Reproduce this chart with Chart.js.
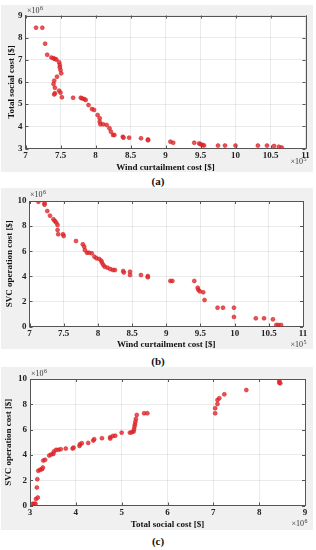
<!DOCTYPE html>
<html>
<head>
<meta charset="utf-8">
<script src="https://cdn.jsdelivr.net/npm/chart.js@4.4.1/dist/chart.umd.min.js"></script>
<style>
  body { margin: 0; width: 316px; height: 550px; background: #fff; position: relative; overflow: hidden; }
  .panel { position: absolute; left: 1px; width: 312px; background: #f0f0f0; }
  .panel canvas { display: block; }
  .cap { position: absolute; left: 0; width: 316px; text-align: center; font: bold 11px "Liberation Serif", serif; color: #111; line-height: 14px; }
</style>
</head>
<body>
<div class="panel" style="top:5px;height:167px"><canvas id="chartA" width="312" height="167"></canvas></div>
<div class="cap" style="top:174px">(a)</div>
<div class="panel" style="top:188px;height:161px"><canvas id="chartB" width="312" height="161"></canvas></div>
<div class="cap" style="top:354px">(b)</div>
<div class="panel" style="top:367px;height:163px"><canvas id="chartC" width="312" height="163"></canvas></div>
<div class="cap" style="top:534px">(c)</div>

<script>
// Pareto front points
// wind curtailment cost (x10^5 $), total social cost / SVC operation cost (x10^6 $)
const windCostA = [7.15, 7.24, 7.28, 7.31, 7.37, 7.40, 7.42, 7.44, 7.48, 7.49, 7.49, 7.50, 7.51, 7.45, 7.41, 7.40, 7.42, 7.48, 7.50, 7.42, 7.41, 7.52, 7.68, 7.79, 7.81, 7.84, 7.86, 7.90, 7.95, 7.98, 8.03, 8.06, 8.06, 8.07, 8.11, 8.16, 8.20, 8.22, 8.25, 8.27, 8.39, 8.40, 8.48, 8.65, 8.75, 8.75, 9.07, 9.11, 9.41, 9.48, 9.50, 9.53, 9.55, 9.75, 9.85, 10.00, 10.32, 10.45, 10.55, 10.62, 10.66];
const socialCostA = [8.45, 8.45, 7.73, 7.23, 7.10, 7.07, 7.04, 7.02, 6.89, 6.77, 6.66, 6.54, 6.39, 6.24, 6.06, 5.91, 5.74, 5.61, 5.52, 5.49, 5.44, 5.31, 5.29, 5.29, 5.26, 5.23, 5.19, 4.96, 4.78, 4.74, 4.51, 4.36, 4.21, 4.09, 4.09, 4.06, 3.91, 3.76, 3.61, 3.61, 3.53, 3.49, 3.49, 3.46, 3.41, 3.37, 3.31, 3.26, 3.26, 3.23, 3.19, 3.16, 3.14, 3.13, 3.13, 3.13, 3.13, 3.13, 3.11, 3.08, 3.04];

const windCostB = [7.13, 7.22, 7.22, 7.26, 7.30, 7.35, 7.37, 7.39, 7.41, 7.41, 7.42, 7.49, 7.50, 7.68, 7.78, 7.80, 7.81, 7.84, 7.87, 7.91, 7.95, 7.98, 8.02, 8.05, 8.06, 8.08, 8.10, 8.14, 8.18, 8.22, 8.25, 8.37, 8.38, 8.47, 8.47, 8.63, 8.73, 8.73, 9.06, 9.09, 9.41, 9.46, 9.47, 9.49, 9.54, 9.56, 9.75, 9.83, 9.99, 9.99, 10.31, 10.43, 10.56, 10.61, 10.64, 10.68];
const svcCostB = [9.94, 9.82, 9.71, 9.20, 8.83, 8.54, 8.41, 8.29, 8.09, 7.69, 7.35, 7.35, 7.21, 6.81, 6.55, 6.36, 6.10, 5.88, 5.88, 5.83, 5.56, 5.43, 5.38, 5.24, 5.08, 4.90, 4.76, 4.69, 4.58, 4.50, 4.50, 4.42, 4.30, 4.37, 4.10, 4.10, 4.02, 3.92, 3.63, 3.63, 3.63, 3.09, 2.93, 2.80, 2.73, 2.11, 1.50, 1.50, 1.50, 0.76, 0.65, 0.65, 0.57, 0.12, 0.12, 0.12];

const socialCostC = [3.06, 3.09, 3.12, 3.13, 3.17, 3.15, 3.16, 3.18, 3.22, 3.26, 3.28, 3.29, 3.33, 3.42, 3.46, 3.51, 3.52, 3.57, 3.62, 3.67, 3.78, 3.93, 3.95, 4.08, 4.09, 4.13, 4.27, 4.38, 4.40, 4.57, 4.75, 4.75, 4.81, 4.86, 5.00, 5.18, 5.22, 5.26, 5.27, 5.28, 5.29, 5.30, 5.31, 5.33, 5.49, 5.56, 7.04, 7.04, 7.09, 7.09, 7.13, 7.24, 7.72, 8.44, 8.44, 8.46];
const svcCostC = [0.13, 0.13, 0.13, 0.51, 0.63, 1.42, 2.08, 2.74, 2.82, 2.87, 3.00, 3.55, 3.61, 3.95, 4.03, 4.08, 4.26, 4.40, 4.40, 4.45, 4.50, 4.50, 4.58, 4.71, 4.85, 4.92, 4.95, 5.13, 5.24, 5.32, 5.40, 5.29, 5.50, 5.52, 5.76, 5.76, 5.79, 5.84, 6.03, 6.24, 6.42, 6.63, 6.84, 7.16, 7.29, 7.29, 7.29, 7.69, 8.03, 8.34, 8.48, 8.79, 9.13, 9.87, 9.71, 9.66];

// tick labels
const windTicks = [7, 7.5, 8, 8.5, 9, 9.5, 10, 10.5, 11];
const socialTicksY = [3, 4, 5, 6, 7, 8, 9];
const socialTicksX = [3, 4, 5, 6, 7, 8, 9];
const svcTicks = [0, 2, 4, 6, 8, 10];

const serif = "'Liberation Serif', 'Times New Roman', serif";

// white plot area, matlab-style box, inward ticks and exponent labels
const matlabBox = {
  id: 'matlabBox',
  beforeDraw(chart) {
    const { ctx, chartArea: a } = chart;
    ctx.save();
    ctx.fillStyle = '#fff';
    ctx.fillRect(a.left, a.top, a.right - a.left, a.bottom - a.top);
    ctx.restore();
  },
  afterDraw(chart, args, opts) {
    const { ctx, chartArea: a } = chart;
    const xs = chart.scales.x, ys = chart.scales.y;
    ctx.save();
    ctx.strokeStyle = '#555';
    ctx.lineWidth = 1;
    ctx.beginPath();
    ctx.moveTo(a.left, Math.round(a.top) + 0.5);
    ctx.lineTo(a.right, Math.round(a.top) + 0.5);
    ctx.moveTo(Math.round(a.right) + 0.5, a.top);
    ctx.lineTo(Math.round(a.right) + 0.5, a.bottom);
    // inward tick marks
    xs.ticks.forEach(t => {
      const px = Math.round(xs.getPixelForValue(t.value)) + 0.5;
      ctx.moveTo(px, a.bottom); ctx.lineTo(px, a.bottom - 3);
      ctx.moveTo(px, a.top); ctx.lineTo(px, a.top + 3);
    });
    ys.ticks.forEach(t => {
      const py = Math.round(ys.getPixelForValue(t.value)) + 0.5;
      ctx.moveTo(a.left, py); ctx.lineTo(a.left + 3, py);
      ctx.moveTo(a.right, py); ctx.lineTo(a.right - 3, py);
    });
    ctx.stroke();

    // exponent labels
    ctx.fillStyle = '#333';
    ctx.textBaseline = 'middle';
    const drawExp = (x, y, exp, alignRight) => {
      ctx.font = '8px ' + serif;
      const w1 = ctx.measureText('\u00d710').width;
      ctx.font = '6px ' + serif;
      const w2 = ctx.measureText(exp).width;
      const x0 = alignRight ? x - w1 - w2 : x;
      ctx.font = '8px ' + serif;
      ctx.textAlign = 'left';
      ctx.fillText('\u00d710', x0, y);
      ctx.font = '6px ' + serif;
      ctx.fillText(exp, x0 + w1 + 0.5, y - 3);
    };
    drawExp(opts.yExpX, opts.yExpY, opts.yExp, false);
    drawExp(opts.xExpX, opts.xExpY, opts.xExp, true);
    ctx.restore();
  }
};

function makeChart(id, xs, ys, cfg) {
  const points = xs.map((x, i) => ({ x: x, y: ys[i] }));
  const tickFont = { family: serif, size: 9, weight: 'bold' };
  const titleFont = { family: serif, size: 9, weight: 'bold', lineHeight: 1 };
  return new Chart(document.getElementById(id), {
    type: 'scatter',
    data: {
      datasets: [{
        data: points,
        pointStyle: 'circle',
        pointRadius: 2,
        borderWidth: 0.6,
        backgroundColor: 'rgba(228, 40, 45, 0.8)',
        borderColor: 'rgba(210, 25, 30, 0.85)'
      }]
    },
    options: {
      responsive: false,
      animation: false,
      devicePixelRatio: 1,
      layout: { padding: { left: 0, top: cfg.top, right: cfg.right, bottom: 0 } },
      scales: {
        x: {
          type: 'linear',
          min: cfg.xTicks[0],
          max: cfg.xTicks[cfg.xTicks.length - 1],
          afterBuildTicks: s => { s.ticks = cfg.xTicks.map(v => ({ value: v })); },
          afterFit: s => { s.height = cfg.xHeight; },
          ticks: { font: tickFont, color: '#222', padding: 2, maxRotation: 0, autoSkip: false, callback: v => String(v) },
          grid: { color: 'rgba(0, 0, 0, 0.08)', drawTicks: false },
          border: { color: '#555', width: 1 },
          title: { display: true, text: cfg.xTitle, font: titleFont, color: '#111', padding: { top: 0, bottom: cfg.xTitlePad } }
        },
        y: {
          type: 'linear',
          min: cfg.yTicks[0],
          max: cfg.yTicks[cfg.yTicks.length - 1],
          afterBuildTicks: s => { s.ticks = cfg.yTicks.map(v => ({ value: v })); },
          afterFit: s => { s.width = cfg.yWidth; },
          ticks: { font: tickFont, color: '#222', padding: 3, autoSkip: false, callback: v => String(v) },
          grid: { color: 'rgba(0, 0, 0, 0.08)', drawTicks: false },
          border: { color: '#555', width: 1 },
          title: { display: true, text: cfg.yTitle, font: titleFont, color: '#111', padding: { top: cfg.yTitlePad, bottom: 0 } }
        }
      },
      plugins: {
        legend: { display: false },
        tooltip: { enabled: false },
        matlabBox: cfg.exp
      }
    },
    plugins: [matlabBox]
  });
}

makeChart('chartA', windCostA, socialCostA, {
  top: 10.5, right: 7.5, xHeight: 23.5, yWidth: 24.5, xTitlePad: 0, yTitlePad: 6,
  xTicks: windTicks, yTicks: socialTicksY,
  xTitle: 'Wind curtailment cost [$]', yTitle: 'Total social cost [$]',
  exp: { yExp: '6', yExpX: 26, yExpY: 6, xExp: '5', xExpX: 305, xExpY: 157 }
});

makeChart('chartB', windCostB, svcCostB, {
  top: 13, right: 10, xHeight: 22.5, yWidth: 28.5, xTitlePad: 0, yTitlePad: 4.5,
  xTicks: windTicks, yTicks: svcTicks,
  xTitle: 'Wind curtailment cost [$]', yTitle: 'SVC operation cost [$]',
  exp: { yExp: '6', yExpX: 29, yExpY: 7, xExp: '5', xExpX: 305, xExpY: 157 }
});

makeChart('chartC', socialCostC, svcCostC, {
  top: 12, right: 8, xHeight: 24.5, yWidth: 29, xTitlePad: 1, yTitlePad: 3,
  xTicks: socialTicksX, yTicks: svcTicks,
  xTitle: 'Total social cost [$]', yTitle: 'SVC operation cost [$]',
  exp: { yExp: '6', yExpX: 30, yExpY: 7, xExp: '6', xExpX: 306, xExpY: 157 }
});
</script>
</body>
</html>
